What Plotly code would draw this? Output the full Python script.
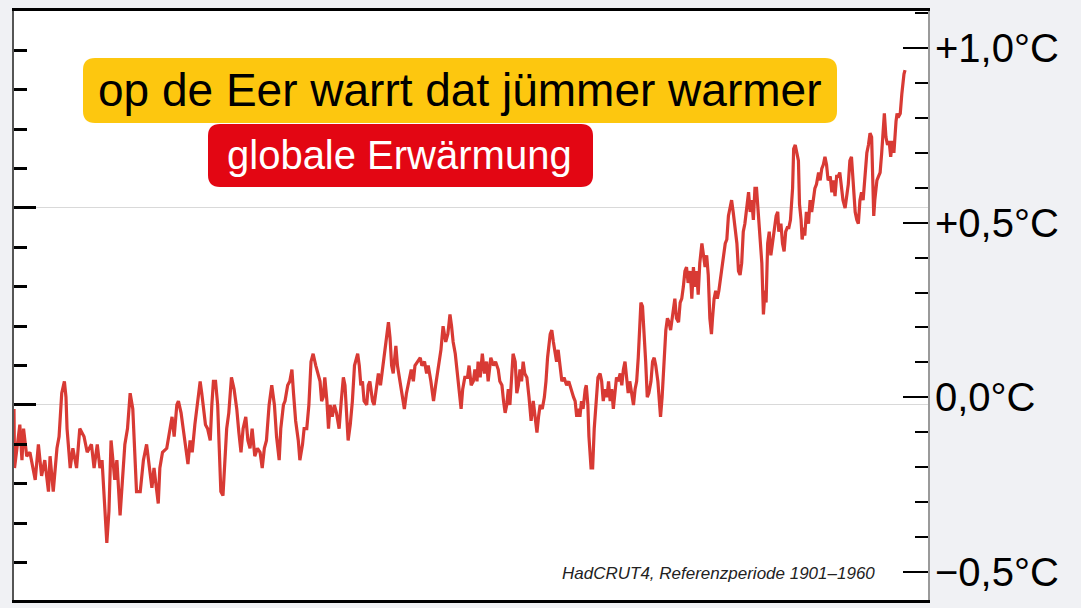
import plotly.graph_objects as go

# HadCRUT4 global temperature anomaly (deg C, reference period 1901-1960),
# read off the reference curve as (decimal year, anomaly) pairs
readings_1850 = [
    (1850.0, -0.01), (1850.1, -0.16), (1851.1, -0.05), (1851.5, -0.14), (1851.8, -0.06),
    (1852.4, -0.13), (1853.0, -0.12), (1854.0, -0.19), (1854.6, -0.10), (1855.2, -0.18),
    (1855.8, -0.14), (1856.5, -0.22), (1856.8, -0.13), (1857.4, -0.22), (1858.1, -0.11),
    (1858.5, -0.08), (1859.0, 0.03), (1859.5, 0.06), (1859.8, 0.02), (1860.0, -0.06),
    (1860.6, -0.16), (1861.1, -0.11), (1861.8, -0.16), (1862.4, -0.06), (1863.2, -0.08),
    (1863.8, -0.12), (1864.6, -0.10), (1865.1, -0.16), (1865.7, -0.10), (1866.2, -0.16),
    (1866.6, -0.14), (1867.2, -0.27), (1867.5, -0.35), (1867.9, -0.27), (1868.3, -0.09),
    (1869.0, -0.19), (1869.4, -0.14), (1870.0, -0.28), (1870.5, -0.16), (1870.9, -0.10),
    (1871.4, -0.06), (1871.9, 0.03), (1872.4, -0.01), (1872.8, -0.11), (1873.1, -0.22),
    (1873.8, -0.22), (1874.4, -0.14), (1875.0, -0.10), (1876.0, -0.21), (1876.4, -0.16),
    (1877.2, -0.25), (1877.5, -0.16), (1878.0, -0.12), (1878.8, -0.11),
]
readings_1879 = [
    (1879.4, -0.06), (1879.8, -0.03), (1880.2, -0.08), (1880.7, 0.00), (1881.0, 0.01),
    (1881.5, -0.02), (1881.9, -0.06), (1882.4, -0.11), (1882.8, -0.15), (1883.2, -0.09),
    (1883.6, -0.12), (1884.1, -0.05), (1884.6, 0.01), (1885.1, 0.06), (1885.4, 0.03),
    (1885.7, 0.00), (1886.1, -0.05), (1886.5, -0.06), (1887.0, -0.09), (1887.3, 0.00),
    (1887.6, 0.06), (1888.0, 0.06), (1888.4, 0.00), (1888.7, -0.11), (1889.0, -0.22),
    (1889.4, -0.23), (1889.8, -0.14), (1890.1, -0.06), (1890.5, -0.02), (1891.0, 0.07),
    (1891.5, 0.04), (1892.0, -0.01), (1892.4, -0.07), (1892.8, -0.12), (1893.2, -0.06),
    (1893.7, -0.03), (1894.1, -0.09), (1894.5, -0.11), (1894.9, -0.06), (1895.4, -0.13),
    (1895.9, -0.11), (1896.4, -0.12), (1896.8, -0.16), (1897.2, -0.11), (1897.6, -0.09),
    (1898.1, 0.00), (1898.6, 0.05), (1899.1, 0.00), (1899.5, -0.08), (1900.0, -0.14),
    (1900.3, -0.06), (1900.8, 0.00), (1901.1, 0.01), (1901.6, 0.05), (1902.0, 0.06),
    (1902.4, 0.09), (1902.7, 0.03), (1903.1, -0.04), (1903.6, -0.09), (1903.9, -0.14),
    (1904.4, -0.10), (1904.7, -0.06), (1905.2, -0.06), (1905.6, 0.00), (1906.0, 0.11),
    (1906.4, 0.13), (1906.9, 0.10), (1907.3, 0.08),
]
readings_1907 = [
    (1907.7, 0.06), (1908.0, 0.01), (1908.3, 0.02), (1908.6, 0.07), (1909.0, 0.01),
    (1909.3, -0.06), (1909.6, 0.00), (1910.0, -0.03), (1910.4, 0.00), (1910.8, -0.02),
    (1911.3, -0.06), (1911.7, 0.01), (1912.1, 0.07), (1912.4, 0.05), (1912.7, -0.02),
    (1913.0, -0.09), (1913.4, -0.05), (1913.8, 0.01), (1914.2, 0.10), (1914.4, 0.11),
    (1914.8, 0.13), (1915.1, 0.10), (1915.4, 0.05), (1915.7, 0.06), (1916.0, 0.01),
    (1916.5, 0.00), (1916.8, 0.05), (1917.1, 0.06), (1917.6, 0.01), (1917.9, 0.00),
    (1918.4, 0.06), (1918.7, 0.08), (1919.1, 0.05), (1919.6, 0.10), (1920.0, 0.14),
    (1920.3, 0.18), (1920.6, 0.21), (1920.9, 0.17), (1921.2, 0.10), (1921.5, 0.08),
    (1922.0, 0.15), (1922.3, 0.10), (1922.8, 0.06), (1923.2, 0.03), (1923.6, -0.01),
    (1924.0, 0.03), (1924.5, 0.06), (1924.9, 0.09), (1925.3, 0.06), (1925.6, 0.10),
    (1926.1, 0.11), (1926.6, 0.12), (1926.9, 0.10), (1927.4, 0.11), (1927.8, 0.08),
    (1928.1, 0.10), (1928.6, 0.06), (1929.1, 0.01), (1929.5, 0.05), (1930.0, 0.10),
    (1930.5, 0.14), (1930.9, 0.20), (1931.4, 0.16), (1931.8, 0.18), (1932.2, 0.23),
    (1932.5, 0.20), (1932.8, 0.16), (1933.2, 0.13), (1933.7, 0.06), (1933.9, 0.03),
    (1934.3, -0.01), (1934.6, 0.04), (1935.0, 0.07),
]
readings_1935 = [
    (1935.5, 0.07), (1935.8, 0.10), (1936.2, 0.05), (1936.6, 0.06), (1936.9, 0.09),
    (1937.3, 0.06), (1937.5, 0.11), (1937.9, 0.07), (1938.3, 0.13), (1938.7, 0.08),
    (1939.1, 0.11), (1939.4, 0.06), (1939.9, 0.12), (1940.4, 0.10), (1940.8, 0.11),
    (1941.3, 0.09), (1941.6, 0.06), (1942.0, 0.05), (1942.3, 0.01), (1942.6, -0.02),
    (1942.9, 0.00), (1943.2, 0.04), (1943.5, 0.00), (1943.8, 0.07), (1944.1, 0.13),
    (1944.5, 0.11), (1944.8, 0.03), (1945.1, 0.05), (1945.4, 0.09), (1945.7, 0.06),
    (1946.0, 0.11), (1946.3, 0.08), (1946.7, 0.07), (1947.1, 0.02), (1947.5, -0.04),
    (1947.9, 0.01), (1948.2, -0.02), (1948.6, -0.07), (1948.9, -0.03), (1949.2, 0.00),
    (1949.6, -0.01), (1950.0, 0.02), (1950.3, 0.06), (1950.6, 0.12), (1951.1, 0.18),
    (1951.4, 0.19), (1951.7, 0.16), (1952.0, 0.14), (1952.3, 0.11), (1952.6, 0.14),
    (1952.9, 0.10), (1953.3, 0.06), (1953.7, 0.07), (1954.2, 0.05), (1954.6, 0.06),
    (1955.0, 0.04), (1955.5, 0.02), (1955.8, 0.01), (1956.1, -0.03), (1956.4, -0.01),
    (1956.7, -0.03), (1957.0, 0.01), (1957.3, -0.01), (1957.7, 0.04), (1957.9, 0.05),
    (1958.2, 0.00), (1958.4, -0.08), (1958.8, -0.16), (1959.1, -0.16), (1959.4, -0.06),
    (1959.7, 0.01), (1960.1, 0.07), (1960.5, 0.08), (1960.8, 0.06), (1961.1, 0.01),
    (1961.4, 0.04), (1961.8, 0.02), (1962.1, 0.06), (1962.4, 0.01), (1962.7, 0.04),
    (1963.0, -0.01),
]
readings_1963 = [
    (1963.3, 0.03), (1963.6, 0.07), (1963.9, 0.06), (1964.3, 0.08), (1964.6, 0.05),
    (1964.9, 0.09), (1965.2, 0.11), (1965.5, 0.07), (1965.8, 0.03), (1966.1, 0.06),
    (1966.5, 0.02), (1966.8, 0.00), (1967.1, 0.04), (1967.4, 0.06), (1967.7, 0.12),
    (1968.0, 0.22), (1968.2, 0.26), (1968.5, 0.25), (1968.8, 0.19), (1969.1, 0.11),
    (1969.4, 0.02), (1969.7, 0.03), (1970.1, 0.06), (1970.4, 0.11), (1970.7, 0.12),
    (1971.0, 0.10), (1971.4, 0.06), (1971.7, 0.00), (1971.9, -0.03), (1972.2, 0.02),
    (1972.6, 0.12), (1972.9, 0.19), (1973.2, 0.22), (1973.5, 0.21), (1973.8, 0.19),
    (1974.1, 0.22), (1974.4, 0.26), (1974.6, 0.27), (1974.9, 0.22), (1975.3, 0.21),
    (1975.6, 0.26), (1975.9, 0.27), (1976.2, 0.30), (1976.5, 0.34), (1976.8, 0.35),
    (1977.1, 0.31), (1977.5, 0.34), (1977.8, 0.27), (1978.1, 0.35), (1978.4, 0.30),
    (1978.7, 0.34), (1979.0, 0.28), (1979.3, 0.36), (1979.7, 0.41), (1980.0, 0.38),
    (1980.3, 0.35), (1980.6, 0.38), (1980.9, 0.33), (1981.2, 0.22), (1981.5, 0.18),
    (1981.7, 0.22), (1982.0, 0.27), (1982.3, 0.29), (1982.6, 0.27), (1982.9, 0.29),
    (1983.2, 0.33), (1983.4, 0.34), (1983.8, 0.38), (1984.1, 0.41), (1984.4, 0.42),
    (1984.7, 0.48), (1985.0, 0.50), (1985.3, 0.52), (1985.6, 0.49), (1986.0, 0.44),
    (1986.3, 0.41), (1986.6, 0.34), (1986.9, 0.33), (1987.2, 0.36), (1987.5, 0.44),
    (1987.8, 0.46), (1988.1, 0.49), (1988.5, 0.54), (1988.8, 0.49), (1989.1, 0.52),
    (1989.4, 0.47), (1989.7, 0.55), (1990.0, 0.55), (1990.3, 0.49), (1990.7, 0.44),
    (1991.0, 0.36), (1991.3, 0.23),
]
readings_1991 = [
    (1991.6, 0.29), (1991.8, 0.26), (1992.1, 0.41), (1992.4, 0.44), (1992.7, 0.38),
    (1993.0, 0.41), (1993.4, 0.45), (1993.7, 0.48), (1994.0, 0.49), (1994.2, 0.44),
    (1994.6, 0.46), (1994.9, 0.41), (1995.2, 0.39), (1995.5, 0.44), (1995.8, 0.45),
    (1996.1, 0.45), (1996.4, 0.47), (1996.8, 0.55), (1997.0, 0.65), (1997.3, 0.66),
    (1997.6, 0.64), (1997.9, 0.62), (1998.1, 0.51), (1998.4, 0.47), (1998.6, 0.42),
    (1998.9, 0.45), (1999.1, 0.43), (1999.4, 0.49), (1999.8, 0.46), (2000.1, 0.52),
    (2000.4, 0.49), (2000.7, 0.53), (2001.0, 0.55), (2001.3, 0.56), (2001.7, 0.59),
    (2002.0, 0.57), (2002.3, 0.60), (2002.6, 0.61), (2002.9, 0.63), (2003.2, 0.61),
    (2003.5, 0.57), (2003.9, 0.58), (2004.2, 0.54), (2004.5, 0.57), (2004.8, 0.53),
    (2005.1, 0.58), (2005.4, 0.58), (2005.7, 0.59), (2006.0, 0.55), (2006.3, 0.52),
    (2006.7, 0.50), (2007.0, 0.53), (2007.3, 0.56), (2007.6, 0.62), (2007.9, 0.63),
    (2008.2, 0.57), (2008.6, 0.49), (2008.9, 0.47), (2009.2, 0.46), (2009.5, 0.52),
    (2009.8, 0.54), (2010.1, 0.52), (2010.5, 0.59), (2010.8, 0.64), (2011.1, 0.66),
    (2011.4, 0.69), (2011.7, 0.68), (2011.9, 0.59), (2012.1, 0.48), (2012.3, 0.52),
    (2012.7, 0.57), (2013.0, 0.58), (2013.3, 0.59), (2013.6, 0.64), (2013.9, 0.72),
    (2014.1, 0.74), (2014.4, 0.68), (2014.7, 0.66), (2015.0, 0.67), (2015.3, 0.63),
    (2015.6, 0.67), (2015.9, 0.64), (2016.3, 0.72), (2016.5, 0.74), (2016.7, 0.73),
    (2017.1, 0.74), (2017.4, 0.79), (2017.6, 0.83), (2017.8, 0.84), (2018.0, 0.85),
]

# right-hand scale labels
right_tick_values = [-0.5, 0.0, 0.5, 1.0]
right_tick_labels = ["\u22120,5°C", "0,0°C", "+0,5°C", "+1,0°C"]

title_text = "op de Eer warrt dat jümmer warmer"
subtitle_text = "globale Erwärmung"
source_text = "HadCRUT4, Referenzperiode 1901–1960"

# Layout geometry (pixels in the 1081x608 page)
W, H = 1081, 608
PLOT_L, PLOT_R, PLOT_T, PLOT_B = 14, 928, 11, 600

LINE_RED = "#d83a34"
YELLOW = "#fdc70f"
RED = "#e30613"
SANS = "Liberation Sans, Arial, sans-serif"


def to_paper(px, py):
    """page pixel -> paper coordinates"""
    return ((px - PLOT_L) / (PLOT_R - PLOT_L),
            (PLOT_B - py) / (PLOT_B - PLOT_T))


def rounded_box(x0, y0, x1, y1, r, color):
    """rounded rectangle shape given in page pixels"""
    ax0, ay0 = to_paper(x0, y0)
    ax1, ay1 = to_paper(x1, y1)
    rx = r / (PLOT_R - PLOT_L)
    ry = r / (PLOT_B - PLOT_T)
    # ay0 is the top edge (larger paper y)
    path = (
        f"M {ax0 + rx},{ay0} L {ax1 - rx},{ay0} Q {ax1},{ay0} {ax1},{ay0 - ry} "
        f"L {ax1},{ay1 + ry} Q {ax1},{ay1} {ax1 - rx},{ay1} "
        f"L {ax0 + rx},{ay1} Q {ax0},{ay1} {ax0},{ay1 + ry} "
        f"L {ax0},{ay0 - ry} Q {ax0},{ay0} {ax0 + rx},{ay0} Z"
    )
    return dict(type="path", path=path, xref="paper", yref="paper",
                fillcolor=color, line=dict(width=0), layer="above")


readings = readings_1850 + readings_1879 + readings_1907 + readings_1935 + readings_1963 + readings_1991
years = [r[0] for r in readings]
anomaly = [r[1] for r in readings]

fig = go.Figure()
fig.add_trace(go.Scatter(
    x=years, y=anomaly, mode="lines",
    line=dict(color=LINE_RED, width=3.2),
    hoverinfo="skip", showlegend=False,
))
# empty trace so the right scale gets drawn
fig.add_trace(go.Scatter(x=[], y=[], yaxis="y2", showlegend=False, hoverinfo="skip"))

fig.update_layout(
    width=W, height=H, autosize=False,
    margin=dict(l=PLOT_L, r=W - PLOT_R, t=PLOT_T, b=H - PLOT_B, pad=0),
    paper_bgcolor="#f0f1f4",
    plot_bgcolor="white",
    xaxis=dict(
        range=[1850.0, 2022.33], showticklabels=False, ticks="", showgrid=False,
        zeroline=False, showline=True, linecolor="black", linewidth=3, mirror=True,
        automargin=False,
    ),
    yaxis=dict(
        range=[-0.495, 1.0], showticklabels=False, zeroline=False,
        tick0=0, dtick=0.5, ticks="inside", ticklen=22, tickwidth=3, tickcolor="black",
        showgrid=True, gridcolor="#d9d9d9", gridwidth=1,
        minor=dict(dtick=0.1, tick0=0, ticks="inside", ticklen=13, tickwidth=3,
                   tickcolor="black", showgrid=False),
        showline=True, linecolor="#555555", linewidth=2, automargin=False,
    ),
    yaxis2=dict(
        overlaying="y", side="right", anchor="x",
        range=[-0.581, 1.107], zeroline=False, showgrid=False,
        tickvals=right_tick_values, ticktext=right_tick_labels,
        ticks="inside", ticklen=25, tickwidth=2, tickcolor="black",
        minor=dict(dtick=0.1, tick0=0, ticks="inside", ticklen=13, tickwidth=2,
                   tickcolor="black", showgrid=False),
        tickfont=dict(family=SANS, size=40, color="black"),
        ticklabelstandoff=-3,
        showline=True, linecolor="#9a9a9a", linewidth=2, automargin=False,
    ),
    shapes=[
        rounded_box(83, 58, 837, 123, 12, YELLOW),
        rounded_box(208, 124, 593, 187, 12, RED),
    ],
)

tx, ty = to_paper(459, 90)
fig.add_annotation(x=tx, y=ty, xref="paper", yref="paper", text=title_text,
                   showarrow=False, xanchor="center", yanchor="middle",
                   font=dict(family=SANS, size=46, color="black"))
sx, sy = to_paper(399, 155)
fig.add_annotation(x=sx, y=sy, xref="paper", yref="paper", text=subtitle_text,
                   showarrow=False, xanchor="center", yanchor="middle",
                   font=dict(family=SANS, size=40, color="white"))
qx, qy = to_paper(877, 573)
fig.add_annotation(x=qx, y=qy, xref="paper", yref="paper", text=f"<i>{source_text}</i>",
                   showarrow=False, xanchor="right", yanchor="middle",
                   font=dict(family=SANS, size=17, color="#222222"))

fig.write_html("out.html", config={"displayModeBar": False},
               post_script="document.body.style.margin='0';")
